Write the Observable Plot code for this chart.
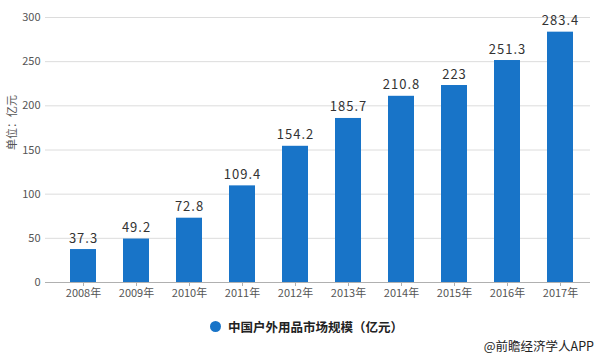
<!DOCTYPE html>
<html>
<head>
<meta charset="utf-8">
<script src="https://cdn.jsdelivr.net/npm/d3@7"></script>
<script src="https://cdn.jsdelivr.net/npm/@observablehq/plot@0.6"></script>
<style>
  html, body { margin: 0; padding: 0; background: #fff; }
  body { width: 600px; height: 356px; overflow: hidden; font-family: "Noto Sans CJK SC", "Noto Sans", sans-serif; position: relative; }
  #legend { position: absolute; left: 210px; top: 317px; font-size: 12.5px; font-weight: bold; color: #222; display: flex; align-items: center; white-space: nowrap; }
  #legend .dot { width: 11px; height: 11px; border-radius: 50%; background: #1874c8; margin-right: 7px; }
  #caption { position: absolute; right: 6px; top: 336px; font-size: 12.5px; color: #222; white-space: nowrap; }
</style>
</head>
<body>
<div id="chart"></div>
<div id="legend"><span class="dot"></span><span>中国户外用品市场规模（亿元）</span></div>
<div id="caption">@前瞻经济学人APP</div>
<script>
const years = ["2008年","2009年","2010年","2011年","2012年","2013年","2014年","2015年","2016年","2017年"];
const values = [37.3, 49.2, 72.8, 109.4, 154.2, 185.7, 210.8, 223, 251.3, 283.4];
const labels = ["37.3","49.2","72.8","109.4","154.2","185.7","210.8","223","251.3","283.4"];
const yTicks = [0, 50, 100, 150, 200, 250, 300];
const yLabel = "单位：亿元";
const seriesName = "中国户外用品市场规模（亿元）";

const data = years.map((y, i) => ({year: y, value: values[i], label: labels[i]}));

const chart = Plot.plot({
  width: 600,
  height: 300,
  marginLeft: 45,
  marginRight: 10,
  marginTop: 17,
  marginBottom: 18,
  style: {fontFamily: "'Noto Sans CJK SC', 'Noto Sans', sans-serif", background: "#fff"},
  x: {domain: years, range: [53, 590], paddingInner: 0.516, paddingOuter: 0.258, label: null},
  y: {domain: [0, 300], label: null},
  marks: [
    Plot.ruleY(yTicks.filter(d => d > 0), {stroke: "#dcdcdc", strokeWidth: 1}),
    Plot.barY(data, {x: "year", y: "value", fill: "#1874c8"}),
    Plot.ruleY([0], {stroke: "#b0b0b0", strokeWidth: 1}),
    Plot.axisX({tickSize: 4, tickPadding: 3, stroke: "#b0b0b0", fill: "#555", fontSize: 11, label: null}),
    Plot.axisY({ticks: yTicks, tickSize: 0, tickPadding: 5, fill: "#555", fontSize: 11, label: null}),
    Plot.text(data, {x: "year", y: "value", text: "label", dy: -7, lineAnchor: "bottom", fill: "#333", fontSize: 13, style: "letter-spacing:1px"}),
    Plot.text([yLabel], {frameAnchor: "left", dx: -33, rotate: -90, fill: "#555", fontSize: 11})
  ]
});
chart.querySelectorAll("text").forEach(t => { if (t.textContent.match(/^\d+\.\d|^223$/)) t.style.letterSpacing = "1px"; });
document.getElementById("chart").appendChild(chart);
</script>
</body>
</html>
